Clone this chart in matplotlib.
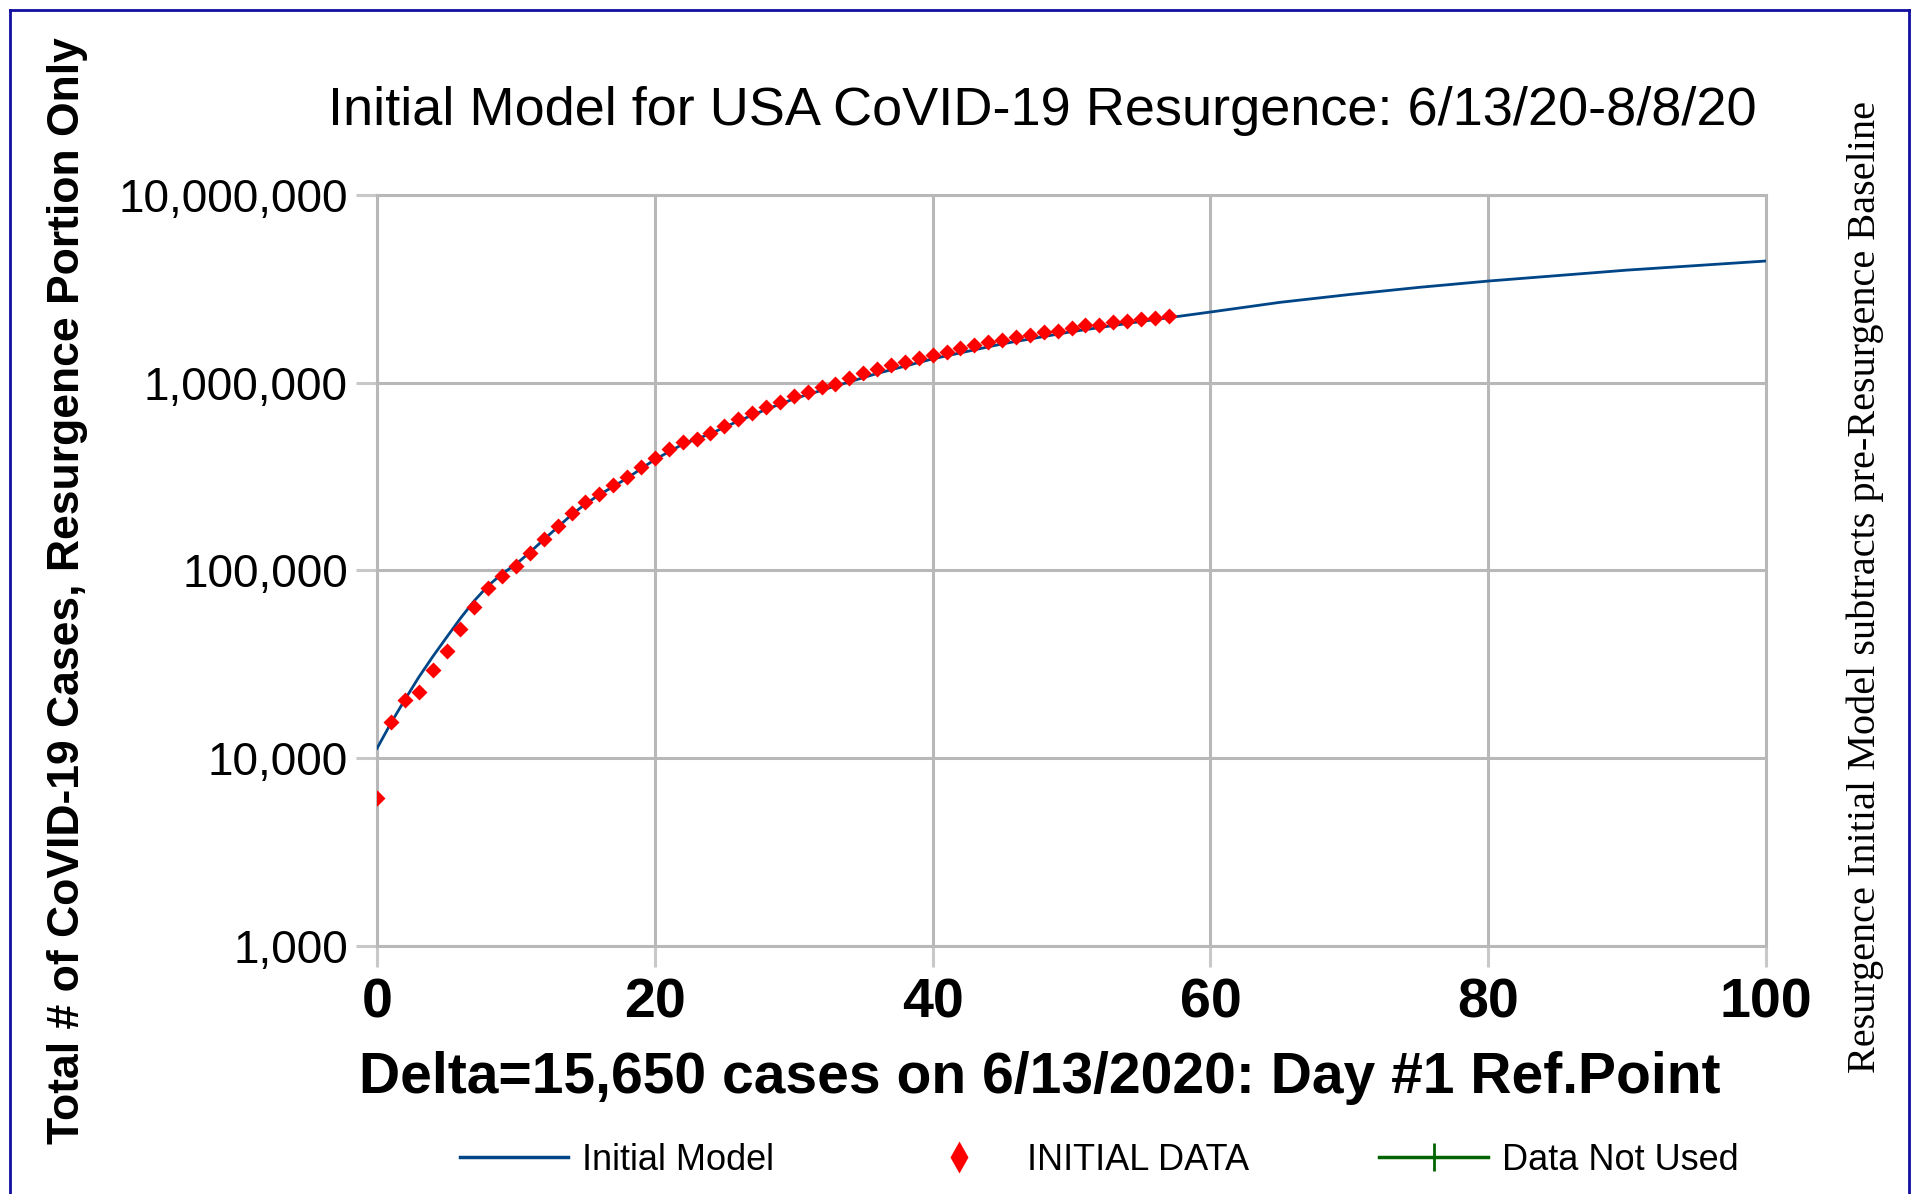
import matplotlib.pyplot as plt
from matplotlib.lines import Line2D
from matplotlib.ticker import FixedLocator, FuncFormatter

# data
days = list(range(0, 58))
cases = [6150, 15600, 20500, 22450, 29650, 37450, 48800, 63900, 81100, 93100,
         105200, 123800, 147800, 171900, 202300, 231600, 256000, 283800, 315600, 355600,
         399000, 445900, 483800, 504500, 543000, 589000, 639700, 685800, 738700, 792500,
         845900, 887800, 944700, 984000, 1059000, 1122000, 1183000, 1244000, 1295000, 1350000,
         1406000, 1466000, 1528000, 1592000, 1644000, 1691000, 1749000, 1799000, 1861000, 1897000,
         1954000, 2018000, 2036000, 2104000, 2130000, 2173000, 2219000, 2265000]

model_days = [0, 1, 2, 3, 4, 5, 6, 7, 8, 9, 10, 11, 12, 13, 14, 15, 16, 17, 18, 19, 20,
              22, 24, 26, 28, 30, 33, 36, 40, 45, 50, 55, 60, 65, 70, 75, 80, 90, 100]
model_cases = [11300, 15400, 20500, 27000, 34700, 44000, 55600, 69000, 83000, 96000,
               108000, 125000, 146000, 170000, 198000, 226000, 253000, 280000, 310000, 348000, 390000,
               470000, 535000, 625000, 720000, 820000, 960000, 1120000, 1340000, 1610000, 1870000,
               2120000, 2380000, 2680000, 2950000, 3220000, 3480000, 3980000, 4450000]

unused_days = []
unused_cases = []

x_ticks = [0, 20, 40, 60, 80, 100]
y_ticks = [1e3, 1e4, 1e5, 1e6, 1e7]

fig = plt.figure(figsize=(19.15, 11.94), dpi=100)
ax = fig.add_axes([0.1969, 0.2077, 0.7253, 0.6290])

ax.plot(model_days, model_cases, color='#004586', lw=2, zorder=3)
ax.plot(days, cases, 'D', color='red', ms=8, mec='none', zorder=4)
ax.plot(unused_days, unused_cases, color='#006400', marker='+', ms=18, mew=2, lw=2)

ax.set_yscale('log')
ax.set_xlim(0, 100)
ax.set_ylim(1e3, 1e7)
ax.xaxis.set_major_locator(FixedLocator(x_ticks))
ax.yaxis.set_major_locator(FixedLocator(y_ticks))
ax.yaxis.set_minor_locator(FixedLocator([]))
ax.yaxis.set_major_formatter(FuncFormatter(lambda v, p: f'{int(v):,}'))

ax.grid(True, color='#b8b8b8', lw=2.2)
for s in ax.spines.values():
    s.set_color('#b8b8b8')
    s.set_linewidth(2.2)
ax.tick_params(axis='both', color='#c8c8c8', width=2.2, length=15)
ax.tick_params(axis='y', labelsize=33, pad=6)
ax.tick_params(axis='x', labelsize=40, pad=8)
for t in ax.get_yticklabels():
    t.set_family('Liberation Sans')
for t in ax.get_xticklabels():
    t.set_family('Liberation Sans')
    t.set_fontweight('bold')

fig.text(0.5445, 0.907, 'Initial Model for USA CoVID-19 Resurgence: 6/13/20-8/8/20',
         ha='center', va='center', fontsize=39, family='Liberation Sans')
fig.text(0.543, 0.097, 'Delta=15,650 cases on 6/13/2020: Day #1 Ref.Point',
         ha='center', va='center', fontsize=41, fontweight='bold', family='Liberation Sans')
fig.text(0.035, 0.505, 'Total # of CoVID-19 Cases, Resurgence Portion Only', rotation=90,
         ha='center', va='center', fontsize=32, fontweight='bold', family='Liberation Sans')
fig.text(0.974, 0.508, 'Resurgence Initial Model subtracts pre-Resurgence Baseline', rotation=90,
         ha='center', va='center', fontsize=29, family='Liberation Serif')

handles = [Line2D([], [], color='#004586', lw=2.5),
           Line2D([], [], ls='none', marker='d', color='red', ms=16, mec='none'),
           Line2D([], [], color='#006400', marker='+', ms=20, mew=2, lw=2.5)]
fig.legend(handles, ['Initial Model', 'INITIAL DATA', 'Data Not Used'],
           loc='center', bbox_to_anchor=(0.574, 0.028), ncol=3, frameon=False,
           handlelength=3, handletextpad=0.4, columnspacing=3.6,
           prop={'family': 'Liberation Sans', 'size': 26})

# blue frame round the whole picture
for xs, ys in [([0.005, 0.005], [0, 0.992]), ([0.005, 0.997], [0.992, 0.992]), ([0.997, 0.997], [0, 0.992])]:
    fig.add_artist(plt.Line2D(xs, ys, color='#1010a0', lw=2, transform=fig.transFigure))

fig.savefig('out.png', dpi=100)
